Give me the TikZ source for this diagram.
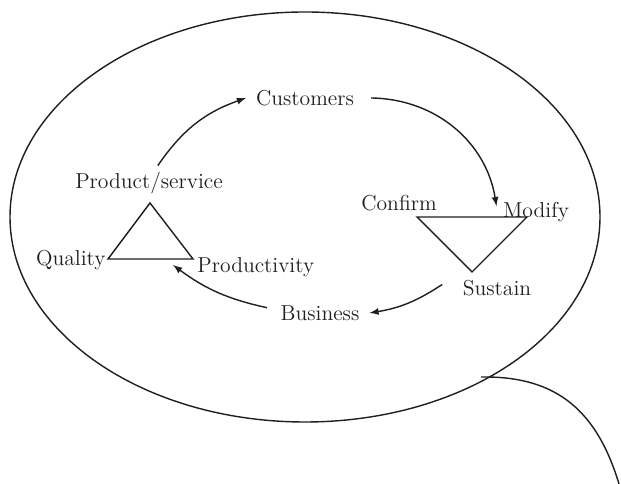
\documentclass[tikz,border=0pt]{standalone}
\usepackage{tikz}
\usepackage{amsmath,amsfonts,amssymb}
\usepackage{xcolor}
\definecolor{nettoi}{gray}{0.12}

\begin{document}
\begin{tikzpicture}[nettoi, line width=0.8pt, every node/.style={font=\fontsize{12.3}{14}\selectfont}]
			\useasboundingbox (0,0) rectangle (12.42,9.68);
			\draw  (6.10,5.34) ellipse (5.90 and 4.10);
			% left triangle
			\draw  (3.00,5.62)-- (2.16,4.50)-- (3.86,4.50)-- cycle;
			\draw (2.98,6.02) node (ps) {Product/service};
			\draw (2.16,4.48) node[left, inner sep=1pt] (qu) {Quality};
			\draw (3.90,4.34) node[right, inner sep=1pt] (pr) {Productivity};
			% right triangle
			\draw  (8.34,5.34)-- (10.54,5.34)-- (9.44,4.24)-- cycle;
			\draw (7.98,5.62) node (co) {Confirm};
			\draw (10.72,5.44) node (mo) {Modify};
			\draw (9.94,3.92) node (su) {Sustain};
			\draw (6.10,7.72) node (cu) {Customers};
			\draw (6.40,3.42) node (bu) {Business};
			\coordinate (pt) at (3.46,4.38);
			% cycle arrows
			\draw[-latex] ([xshift=5pt]ps.north) to[bend left=18] ([xshift=-2pt]cu.west);
			\draw[-latex] ([xshift=6pt]cu.east) to[bend left=40] ([yshift=-6pt]mo.north west);
			\draw[-latex] ([xshift=-8pt,yshift=2pt]su.west) to[bend left=12] ([xshift=2pt]bu.east);
			\draw[-latex] ([xshift=-4pt,yshift=3pt]bu.west) to[bend left=12] (pt);
			% tail
			\coordinate (tl) at (9.62,2.14);
			\draw (tl) .. controls (11.0,2.16) and (11.9,1.6) .. (12.38,0.0);
		\end{tikzpicture}
\end{document}
